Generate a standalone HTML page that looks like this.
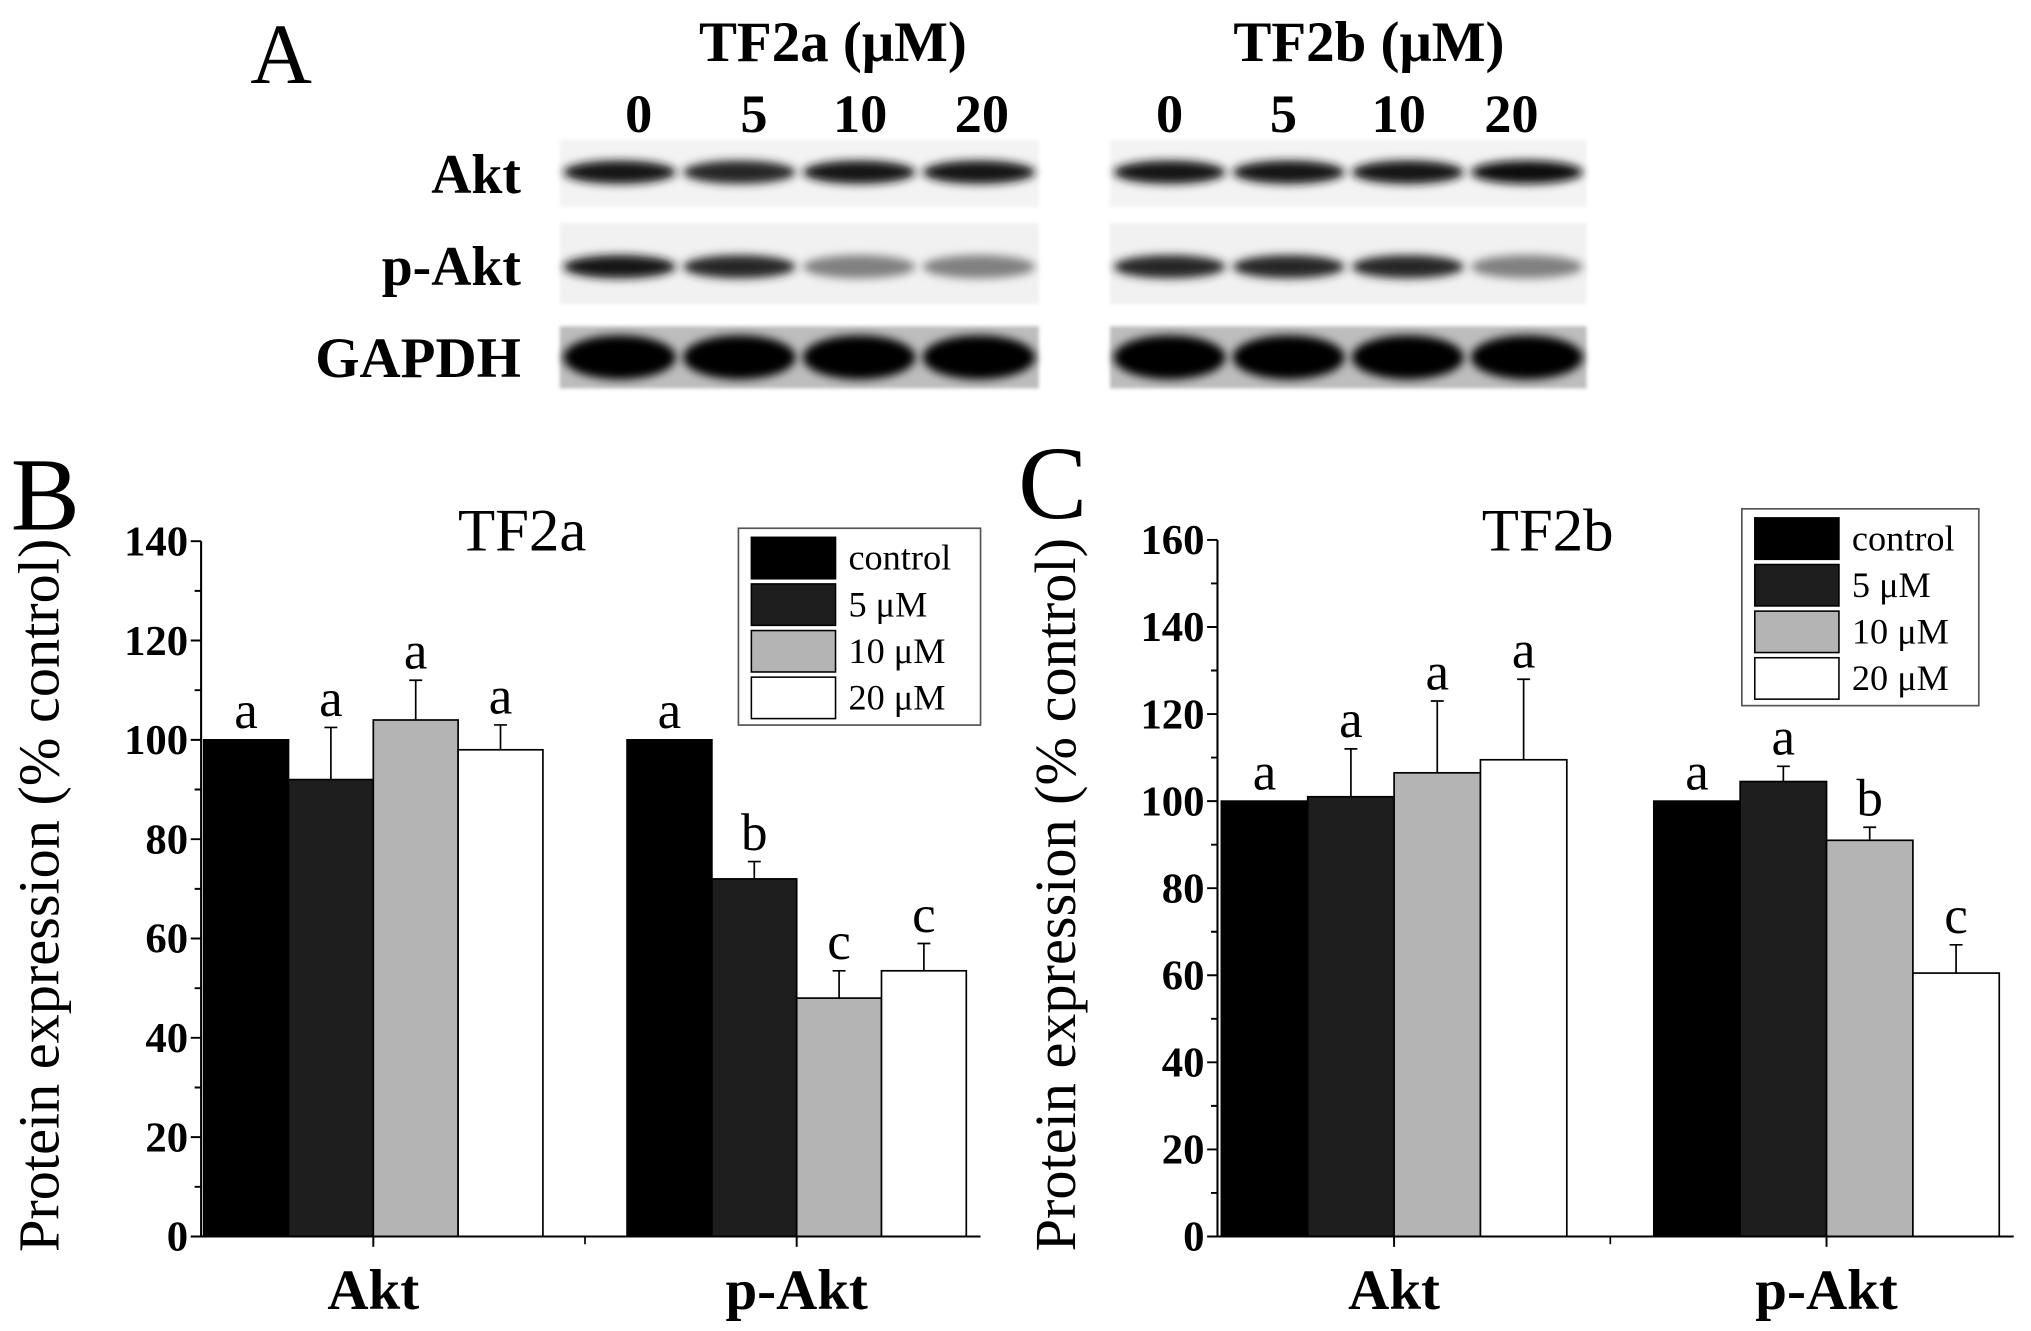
<!DOCTYPE html>
<html><head><meta charset="utf-8"><style>
html,body{margin:0;padding:0;background:#fff}
svg{display:block}
text{font-family:"Liberation Serif",serif}
</style></head><body>
<svg id="fig" width="2031" height="1331" viewBox="0 0 1568 1028" xmlns="http://www.w3.org/2000/svg">
<defs>
<filter id="blur" x="-20%" y="-50%" width="140%" height="200%"><feGaussianBlur stdDeviation="3.5"/></filter>
<filter id="blur2"><feGaussianBlur stdDeviation="1.5"/></filter>
</defs>
<g id="panelA">
<text x="193" y="64" font-size="66">A</text>
<text x="643" y="47" font-size="44" font-weight="bold" text-anchor="middle">TF2a (μM)</text>
<text x="1057" y="47" font-size="44" font-weight="bold" text-anchor="middle">TF2b (μM)</text>
<text x="402" y="149" font-size="43" font-weight="bold" text-anchor="end">Akt</text>
<text x="402" y="220" font-size="43" font-weight="bold" text-anchor="end">p-Akt</text>
<text x="402" y="291" font-size="44" font-weight="bold" text-anchor="end">GAPDH</text>
<g id="blots"></g>
</g>
<g id="chartB"></g>
<g id="chartC"></g>
</svg>
<script>
const NS="http://www.w3.org/2000/svg";
function mk(parent,tag,attrs,txt){const e=document.createElementNS(NS,tag);for(const k in attrs)e.setAttribute(k,attrs[k]);if(txt!==undefined)e.textContent=txt;parent.appendChild(e);return e;}

// Blot data
const doseLabels=["0","5","10","20"];
const aktIntensityA=[0.9,0.85,0.9,0.9];
const pAktIntensityA=[0.9,0.85,0.5,0.5];
const aktIntensityB=[0.9,0.9,0.9,0.95];
const pAktIntensityB=[0.85,0.85,0.85,0.5];

const blots=document.getElementById('blots');
const sets=[{x0:432,x1:802,num:[493,582,664,758],akt:aktIntensityA,pakt:pAktIntensityA},
            {x0:857,x1:1225,num:[903,991,1080,1167],akt:aktIntensityB,pakt:pAktIntensityB}];
sets.forEach((s,si)=>{
  s.num.forEach((cx,i)=>{
    const t=mk(blots,'text',{x:cx,y:102,'font-size':42,'font-weight':'bold','text-anchor':'middle'},doseLabels[i]);
    
    
  });
  const rows=[{y0:108,y1:160,cy:133,h:9,vals:s.akt,bg:'#f3f3f3'},{y0:172,y1:235,cy:206,h:9,vals:s.pakt,bg:'#f1f1f1'},{y0:252,y1:300,cy:276,h:17,vals:[1,1,1,1],bg:'#bdbdbd'}];
  rows.forEach((r,ri)=>{
    const bg=mk(blots,'rect',{x:s.x0,y:r.y0,width:s.x1-s.x0,height:r.y1-r.y0,fill:r.bg,filter:'url(#blur2)'});
    
    
    const lw=(s.x1-s.x0)/4;
    r.vals.forEach((v,i)=>{
      const g=Math.round(255*(1-v));
      const e=mk(blots,'ellipse',{cx:s.x0+lw*(i+0.5),cy:r.cy,rx:lw*0.47,ry:r.h,fill:`rgb(${g},${g},${g})`,filter:'url(#blur)'});
      
      
    });
  });
});

// Chart data
const groups=["Akt","p-Akt"];
const seriesNames=["control","5 μM","10 μM","20 μM"];
const fills=["#000000","#1e1e1e","#b4b4b4","#ffffff"];
const tf2aMeans=[[100,92,104,98],[100,72,48,53.5]];
const tf2aErr=[[0,10.5,8,5],[0,3.5,5.5,5.5]];
const tf2aLetters=[["a","a","a","a"],["a","b","c","c"]];
const tf2aTicks=[0,20,40,60,80,100,120,140];
const tf2bMeans=[[100,101,106.5,109.5],[100,104.5,91,60.5]];
const tf2bErr=[[0,11,16.5,18.5],[0,3.5,3,6.5]];
const tf2bLetters=[["a","a","a","a"],["a","a","b","c"]];
const tf2bTicks=[0,20,40,60,80,100,120,140,160];

function drawChart(gid,o,means,errs,letters,ticks){
  const g=document.getElementById(gid);
  const ymax=ticks[ticks.length-1];
  const y=v=>o.y0-(v/ymax)*(o.y0-o.yTop);
  const bw=o.bw;
  const gx=gi=>o.gStart[gi];
  means.forEach((arr,gi)=>{
    arr.forEach((v,si)=>{
      const x=gx(gi)+si*bw;
      const r=mk(g,'rect',{x:x,y:y(v),width:bw,height:o.y0-y(v),fill:fills[si],stroke:'#000','stroke-width':1.3});
      
      
      const e=errs[gi][si];
      const cx=x+bw/2;
      if(e>0){
        const l=mk(g,'path',{d:`M${cx},${y(v)} V${y(v+e)} M${cx-5},${y(v+e)} H${cx+5}`,stroke:'#000','stroke-width':1.3,fill:'none'});
        
        
      }
      const t=mk(g,'text',{x:cx,y:y(v+e)-9,'font-size':41,'text-anchor':'middle'},letters[gi][si]);
      
      
    });
  });
  const ax=mk(g,'path',{d:`M${o.x0},${o.yTop} V${o.y0} H${o.xEnd}`,stroke:'#000','stroke-width':1.6,fill:'none'});
  
  
  ticks.forEach((tv,i)=>{
    const tk=mk(g,'path',{d:`M${o.x0},${y(tv)} H${o.x0-8}`+(i<ticks.length-1?` M${o.x0},${y(tv+(ticks[1]-ticks[0])/2)} H${o.x0-5}`:''),stroke:'#000','stroke-width':1.5});
    
    
    const t=mk(g,'text',{x:o.x0-10,y:y(tv)+11,'font-size':33,'font-weight':'bold','text-anchor':'end'},String(tv));
    
    
  });
  groups.forEach((gn,gi)=>{
    const cx=gx(gi)+2*bw;
    const tk=mk(g,'path',{d:`M${cx},${o.y0} V${o.y0+8}`,stroke:'#000','stroke-width':1.5});
    
    
    const t=mk(g,'text',{x:cx,y:o.y0+56,'font-size':44,'font-weight':'bold','text-anchor':'middle'},gn);
    
    
  });
  const mid=(gx(0)+4*bw+gx(1))/2;
  const mt=mk(g,'path',{d:`M${mid},${o.y0} V${o.y0+6}`,stroke:'#000','stroke-width':1.3});
  
  
  const yl=mk(g,'text',{x:0,y:0,'font-size':45,'text-anchor':'middle',transform:`translate(${o.x0-110},${(o.y0+o.yTop)/2+5}) rotate(-90)`},'Protein expression (% control)');
  
  
  const tt=mk(g,'text',{x:o.titleX,y:o.titleY,'font-size':47,'text-anchor':'middle'},o.title);
  
  
  const pl=mk(g,'text',{x:o.plX,y:o.plY,'font-size':80},o.pl);
  
  
  const lg=mk(g,'g',{});
  
  
  mk(lg,'rect',{x:o.lx,y:o.ly,width:o.lw,height:152,fill:'#fff',stroke:'#555','stroke-width':1.3});
  seriesNames.forEach((n,i)=>{
    const ry=o.ly+7+i*36;
    const sw=mk(lg,'rect',{x:o.lx+10,y:ry,width:65,height:32,fill:fills[i],stroke:'#000','stroke-width':1.2});
    
    
    const t=mk(lg,'text',{x:o.lx+85,y:ry+25,'font-size':28},n);
    
    
  });
}
drawChart('chartB',{x0:155,y0:955,yTop:418,xEnd:757,bw:65.5,gStart:[157,484],title:'TF2a',titleX:403,titleY:425,pl:'B',plX:8,plY:409,lx:570,ly:408,lw:187},tf2aMeans,tf2aErr,tf2aLetters,tf2aTicks);
drawChart('chartC',{x0:940,y0:955,yTop:417,xEnd:1555,bw:66.7,gStart:[943,1277],title:'TF2b',titleX:1195,titleY:425,pl:'C',plX:786,plY:400,lx:1345,ly:393,lw:183},tf2bMeans,tf2bErr,tf2bLetters,tf2bTicks);
</script>
</body></html>
